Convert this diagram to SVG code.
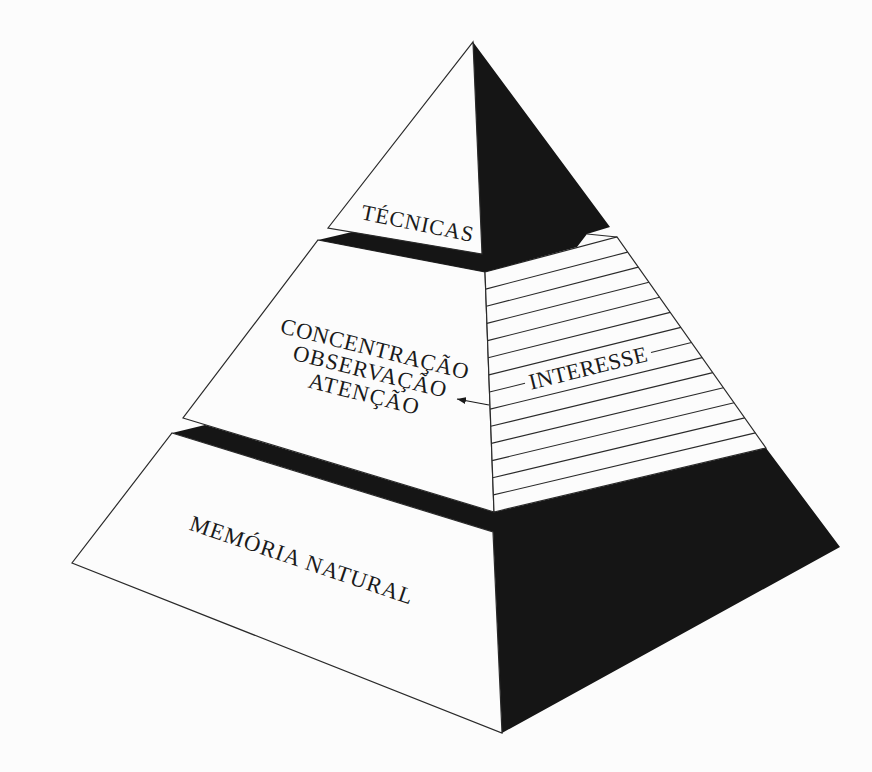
<svg xmlns="http://www.w3.org/2000/svg" width="872" height="772" viewBox="0 0 872 772">
  <defs>
    <style>
      .bg { fill: #fcfcfc; }
      .dark { fill: #151515; stroke: none; }
      .face { fill: #fcfcfc; stroke: #2a2a2a; stroke-width: 1.2; stroke-linejoin: miter; }
      .edge { fill: none; stroke: #2a2a2a; stroke-width: 1.2; }
      .hatch { fill: none; stroke: #2a2a2a; stroke-width: 1.1; }
      .lbl { font-family: "Liberation Serif", "Times New Roman", serif; fill: #1a1a1a; text-anchor: middle; }
    </style>
    <marker id="arrowhead" markerWidth="10" markerHeight="8" refX="9" refY="4" orient="auto" markerUnits="userSpaceOnUse">
      <path d="M0,0.5 L9,4 L0,7.5 Z" fill="#1a1a1a"/>
    </marker>
  </defs>

  <rect class="bg" x="0" y="0" width="872" height="772"/>

  <!-- Bottom tier: Memória natural -->
  <g id="tier-bottom">
    <polygon class="dark" points="172,433 205,425 494,512 766,448 840,547 502,733 493,532"/>
    <polygon class="face" points="172,433 493,532 502,733 72,563"/>
    <text class="lbl" font-size="22.5" textLength="234" lengthAdjust="spacing" transform="translate(299,567) rotate(18.7)">MEMÓRIA NATURAL</text>
  </g>

  <!-- Middle tier: Concentração / Observação / Atenção + Interesse -->
  <g id="tier-middle">
    <polygon class="face" points="318,240 485,272 494,512 183,418"/>
    <polygon class="face" points="485,272 617,237 766,448 494,512"/>
    <g class="hatch">
      <line x1="485.6" y1="289.1" x2="627.6" y2="252.1"/>
      <line x1="486.3" y1="306.3" x2="638.3" y2="267.1"/>
      <line x1="486.9" y1="323.4" x2="648.9" y2="282.2"/>
      <line x1="487.6" y1="340.6" x2="659.6" y2="297.3"/>
      <line x1="488.2" y1="357.7" x2="670.2" y2="312.4"/>
      <line x1="488.9" y1="374.9" x2="680.9" y2="327.4"/>
      <line x1="489.5" y1="392" x2="525" y2="383.3"/>
      <line x1="651" y1="352.5" x2="691.5" y2="342.5"/>
      <line x1="490.1" y1="409.1" x2="702.1" y2="357.6"/>
      <line x1="490.8" y1="426.3" x2="712.8" y2="372.6"/>
      <line x1="491.4" y1="443.4" x2="723.4" y2="387.7"/>
      <line x1="492.1" y1="460.6" x2="734.1" y2="402.8"/>
      <line x1="492.7" y1="477.7" x2="744.7" y2="417.9"/>
      <line x1="493.4" y1="494.9" x2="755.4" y2="432.9"/>
    </g>
    <text class="lbl" font-size="22.5" textLength="193" lengthAdjust="spacing" transform="translate(373,356) rotate(14)">CONCENTRAÇÃO</text>
    <text class="lbl" font-size="22.5" textLength="157" lengthAdjust="spacing" transform="translate(368,378.5) rotate(14)">OBSERVAÇÃO</text>
    <text class="lbl" font-size="22.5" textLength="113" lengthAdjust="spacing" transform="translate(362,401) rotate(14)">ATENÇÃO</text>
    <text class="lbl" font-size="22.5" textLength="121" lengthAdjust="spacing" transform="translate(588,368) rotate(-13.8)" y="7.5">INTERESSE</text>
  </g>

  <!-- Top tier: Técnicas -->
  <g id="tier-top">
    <polygon class="dark" points="473,42 610,227 587,234 577,247 485,272 318,240 352,232"/>
    <polyline class="edge" points="587,234 617,237"/>
    <polygon class="face" points="473,42 482,254 328,228"/>
    <text class="lbl" font-size="22" textLength="114" lengthAdjust="spacing" transform="translate(416,230.5) rotate(11.6)">TÉCNICAS</text>
  </g>

  <!-- Connectors -->
  <g id="connectors">
    <line x1="489" y1="405" x2="457" y2="399" stroke="#1a1a1a" stroke-width="1.2" marker-end="url(#arrowhead)"/>
  </g>
</svg>
